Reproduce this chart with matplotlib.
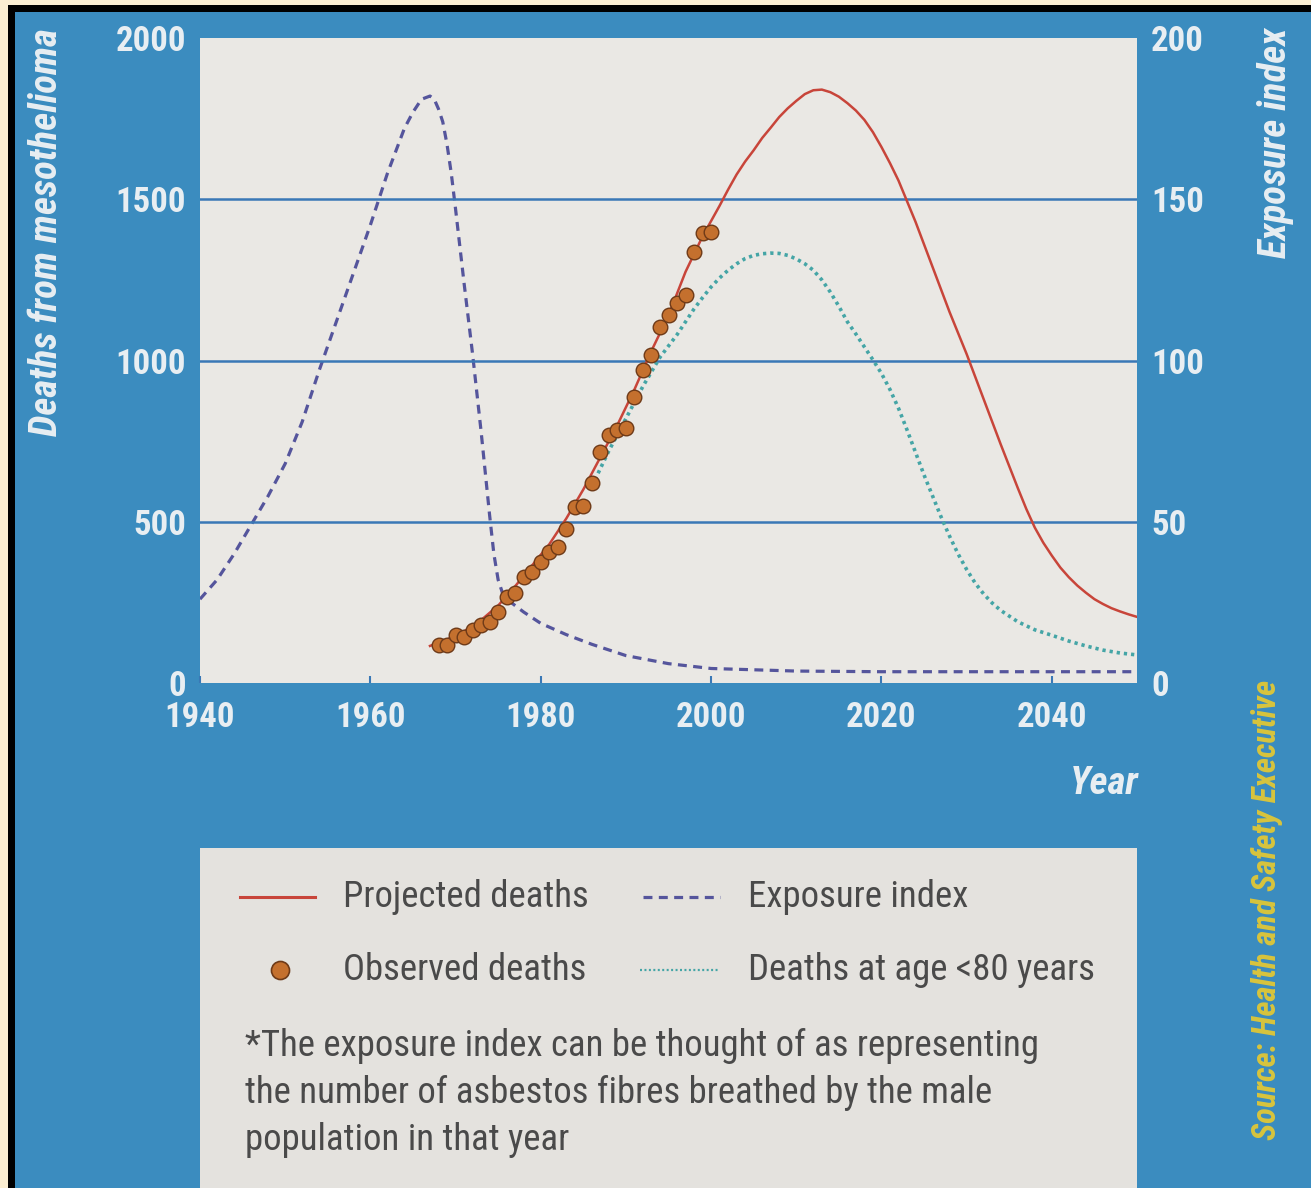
import matplotlib
matplotlib.use("Agg")
import matplotlib.pyplot as plt
from matplotlib.patches import Rectangle
from matplotlib.lines import Line2D

# --- data ---
obs_years = list(range(1968, 2001))
obs_deaths = [118, 118, 149, 143, 164, 180, 190, 221, 267, 278, 329, 344, 375,
              406, 422, 479, 546, 548, 619, 717, 769, 785, 790, 888, 970, 1017,
              1105, 1141, 1178, 1203, 1337, 1394, 1399]

proj_years = [1967, 1969, 1971, 1973, 1975, 1977, 1979, 1981, 1983, 1985, 1987,
              1989, 1991, 1993, 1995, 1997, 1999, 2001, 2002, 2003, 2004, 2005,
              2006, 2007, 2008, 2009, 2010, 2011, 2012, 2013, 2014, 2015, 2016,
              2017, 2018, 2019, 2020, 2021, 2022, 2024, 2026, 2028, 2030, 2032,
              2034, 2036, 2037, 2038, 2039, 2040, 2041, 2042, 2043, 2044, 2045,
              2046, 2047, 2048, 2049, 2050]
proj_deaths = [115, 135, 160, 195, 240, 300, 365, 430, 510, 600, 700, 800, 910,
               1030, 1140, 1275, 1385, 1480, 1530, 1577, 1617, 1652, 1690, 1722,
               1755, 1782, 1805, 1826, 1838, 1840, 1832, 1818, 1798, 1775, 1746,
               1708, 1662, 1612, 1558, 1430, 1290, 1150, 1020, 880, 740, 605, 540,
               482, 435, 395, 358, 328, 302, 280, 260, 245, 232, 222, 213, 205]

u80_years = [1986, 1988, 1990, 1992, 1994, 1995, 1996, 1997, 1998, 1999, 2000,
             2001, 2002, 2003, 2004, 2005, 2006, 2007, 2008, 2009, 2010, 2011,
             2012, 2013, 2014, 2015, 2016, 2017, 2018, 2019, 2020, 2021, 2022,
             2023, 2024, 2025, 2026, 2027, 2028, 2029, 2030, 2031, 2032, 2033,
             2034, 2036, 2038, 2040, 2042, 2044, 2046, 2048, 2050]
u80_deaths = [610, 720, 820, 920, 1010, 1045, 1080, 1120, 1160, 1195, 1228, 1256,
              1280, 1300, 1316, 1326, 1331, 1333, 1332, 1326, 1315, 1300, 1280,
              1250, 1212, 1168, 1120, 1082, 1042, 1002, 960, 910, 852, 785, 715,
              645, 580, 515, 455, 400, 352, 310, 276, 248, 225, 190, 165, 148,
              130, 115, 102, 93, 87]

exp_years = [1940, 1942, 1944, 1946, 1948, 1950, 1952, 1954, 1956, 1958, 1960,
             1962, 1963, 1964, 1965, 1966, 1967, 1967.5, 1968, 1968.5, 1969,
             1969.5, 1970, 1971, 1972, 1973, 1974, 1974.5, 1975, 1975.5, 1976,
             1977, 1978, 1980, 1983, 1986, 1990, 1995, 2000, 2010, 2020, 2030,
             2040, 2050]
exp_index = [26, 32, 40, 49, 58, 68, 81, 97, 112, 127, 142, 158, 165, 172, 177,
             181, 182, 181, 178, 174, 167, 158, 147, 124, 102, 78, 52, 40, 32, 28,
             26, 24, 22, 18.5, 15, 12, 8.5, 6, 4.5, 3.7, 3.5, 3.5, 3.5, 3.5]

year_ticks = [1940, 1960, 1980, 2000, 2020, 2040]
left_ticks = [0, 500, 1000, 1500, 2000]
right_ticks = [0, 50, 100, 150, 200]

# --- colours / fonts ---
CREAM = "#fbeed2"
BLUE = "#3b8cbf"
GRID = "#3a78b6"
PLOT_BG = "#eae8e4"
LEG_BG = "#e4e2de"
RED = "#c8453a"
PURPLE = "#55559c"
TEAL = "#45a5a6"
DOT_FILL = "#c4702e"
DOT_EDGE = "#6e3a18"
TICKC = "#e8eef2"
TXT = "#4a4a4a"
YELLOW = "#d8c43c"
NARROW = ["Roboto Condensed", "Liberation Sans Narrow", "DejaVu Sans"]
STRETCH = "condensed"

W, H = 1311, 1188
fig = plt.figure(figsize=(W / 100, H / 100), dpi=100, facecolor=CREAM)


def fx(px):
    return px / W


def fy(py):
    return 1 - py / H


# photo border: cream edge, black line, blue page
fig.patches.append(Rectangle((fx(8), 0), 1, fy(5), transform=fig.transFigure,
                             facecolor="black", edgecolor="none", zorder=-10))
fig.patches.append(Rectangle((fx(15), 0), 1, fy(12), transform=fig.transFigure,
                             facecolor=BLUE, edgecolor="none", zorder=-9))

rect = [fx(200), fy(683), fx(937), 645 / H]
ax2 = fig.add_axes(rect)
ax = fig.add_axes(rect, sharex=ax2)
ax2.set_facecolor(PLOT_BG)
ax.patch.set_visible(False)
ax2.yaxis.tick_right()

for a in (ax, ax2):
    for s in a.spines.values():
        s.set_visible(False)

ax.set_xlim(1940, 2050)
ax.set_ylim(0, 2000)
ax2.set_ylim(0, 200)

for v in left_ticks[1:-1]:
    ax.axhline(v, color=GRID, lw=1.8, zorder=1)

ax2.plot(exp_years, exp_index, color=PURPLE, lw=2.3, dashes=(2.8, 2.0))
ax.plot(proj_years, proj_deaths, color=RED, lw=1.8, zorder=3)
ax.plot(u80_years, u80_deaths, color=TEAL, lw=2.6, dashes=(0.9, 1.1), zorder=3)
ax.plot(obs_years, obs_deaths, "o", ms=10.5, mfc=DOT_FILL, mec=DOT_EDGE, mew=1.0,
        zorder=4)

ax.set_xticks(year_ticks)
ax.set_yticks(left_ticks)
ax2.set_yticks(right_ticks)
tick_font = dict(family=NARROW, stretch=STRETCH, weight="bold", size=25)
ax.set_xticklabels([str(t) for t in year_ticks], color=TICKC, **tick_font)
ax.set_yticklabels([str(t) for t in left_ticks], color=TICKC, **tick_font)
ax2.set_yticklabels([str(t) for t in right_ticks], color=TICKC, **tick_font)
ax.tick_params(axis="x", direction="in", length=5, width=1.5, color=GRID, pad=13)
ax.tick_params(axis="y", length=0, pad=10)
ax2.tick_params(axis="y", length=0, pad=10)
ax2.tick_params(axis="x", length=0, labelbottom=False)

lab_font = dict(family=NARROW, stretch=STRETCH, weight="bold", style="italic",
                size=28, color=TICKC)
fig.text(fx(47), fy(28), "Deaths from mesothelioma", rotation=90, ha="center",
         va="top", **lab_font)
fig.text(fx(1275), fy(28), "Exposure index", rotation=90, ha="center", va="top",
         **lab_font)
fig.text(fx(1139), fy(783), "Year", ha="right", va="center", **lab_font)
fig.text(fx(1267), fy(910), "Source: Health and Safety Executive", rotation=90,
         ha="center", va="center", family=NARROW, stretch=STRETCH, weight="bold",
         style="italic", size=23.5, color=YELLOW)

# legend panel
lg = fig.add_axes([fx(200), 0, fx(937), (H - 848) / H])
lg.set_facecolor(LEG_BG)
lg.set_xlim(200, 1137)
lg.set_ylim(H, 848)
lg.set_xticks([])
lg.set_yticks([])
for s in lg.spines.values():
    s.set_visible(False)

lg.add_line(Line2D([240, 315], [897, 897], color=RED, lw=2.2))
lg.add_line(Line2D([643, 720], [897, 897], color=PURPLE, lw=2.3, dashes=(2.8, 2.0)))
lg.add_line(Line2D([640, 720], [970, 970], color=TEAL, lw=1.6, dashes=(0.9, 1.1)))
lg.plot([280], [970], "o", ms=13, mfc=DOT_FILL, mec=DOT_EDGE, mew=1.2)

leg_font = dict(family=NARROW, stretch=STRETCH, size=26.5, color=TXT, va="center",
                ha="left")
lg.text(343, 897, "Projected deaths", **leg_font)
lg.text(748, 897, "Exposure index", **leg_font)
lg.text(343, 970, "Observed deaths", **leg_font)
lg.text(748, 970, "Deaths at age <80 years", **leg_font)
lg.text(245, 1046, "*The exposure index can be thought of as representing", **leg_font)
lg.text(245, 1093, "the number of asbestos fibres breathed by the male", **leg_font)
lg.text(245, 1140, "population in that year", **leg_font)

fig.savefig("out.png", dpi=100, facecolor=fig.get_facecolor())
